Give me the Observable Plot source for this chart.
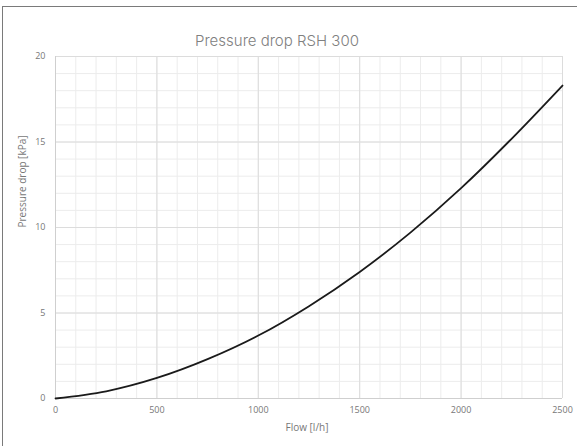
<!DOCTYPE html>
<html>
<head>
<meta charset="utf-8">
<script src="https://cdn.jsdelivr.net/npm/d3@7"></script>
<script src="https://cdn.jsdelivr.net/npm/@observablehq/plot@0.6"></script>
<style>
  html, body { margin: 0; padding: 0; background: #fff; }
  #wrap { position: relative; width: 577px; height: 446px; overflow: hidden; }
  #frame { position: absolute; left: 2px; top: 6px; width: 580px; height: 460px; border-left: 1.5px solid #7a7a7a; border-top: 1.5px solid #7a7a7a; pointer-events: none; }
</style>
</head>
<body>
<div id="wrap"><div id="frame"></div></div>
<script>
const title = "Pressure drop RSH 300";
const xLabel = "Flow [l/h]";
const yLabel = "Pressure drop [kPa]";
const flow = [0, 250, 500, 750, 1000, 1250, 1500, 1750, 2000, 2250, 2500];
const pressure = [0, 0.42, 1.2, 2.3, 3.68, 5.4, 7.4, 9.7, 12.3, 15.2, 18.3];
const xTicks = [0, 500, 1000, 1500, 2000, 2500];
const yTicks = [0, 5, 10, 15, 20];
const xMinor = d3.range(0, 2501, 100);
const yMinor = d3.range(0, 20.01, 1);

const data = flow.map((f, i) => ({flow: f, p: pressure[i]}));
const font = "'Open Sans', sans-serif";

const chart = Plot.plot({
  width: 577,
  height: 446,
  marginLeft: 55,
  marginRight: 15,
  marginTop: 56,
  marginBottom: 48,
  style: {fontFamily: font, fontSize: "9px", color: "#777", background: "transparent"},
  x: {domain: [0, 2500], ticks: xTicks, tickSize: 0, tickPadding: 8, label: null},
  y: {domain: [0, 20], ticks: yTicks, tickSize: 0, tickPadding: 10, label: null},
  marks: [
    Plot.ruleX(xMinor, {stroke: "#ececec", strokeWidth: 1}),
    Plot.ruleY(yMinor, {stroke: "#ececec", strokeWidth: 1}),
    Plot.ruleX(xTicks, {stroke: "#dcdcdc", strokeWidth: 1}),
    Plot.ruleY(yTicks, {stroke: "#dcdcdc", strokeWidth: 1}),
    Plot.ruleY([0], {stroke: "#cfcfcf"}),
    Plot.ruleX([0], {stroke: "#cfcfcf"}),
    Plot.line(data, {x: "flow", y: "p", curve: "monotone-x", stroke: "#1a1a1a", strokeWidth: 1.8}),
    Plot.axisX({ticks: xTicks, tickFormat: d3.format("d"), tickSize: 0, tickPadding: 8, fill: "#777", fontSize: 9, label: null}),
    Plot.axisY({ticks: yTicks, tickFormat: d3.format("d"), tickSize: 0, tickPadding: 10, fill: "#777", fontSize: 9, label: null}),
    Plot.text([xLabel], {frameAnchor: "bottom", dy: 32, dx: -2, fill: "#777", fontSize: 10}),
    Plot.text([yLabel], {frameAnchor: "left", rotate: -90, dx: -33, fill: "#777", fontSize: 10}),
    Plot.text([title], {frameAnchor: "top", dy: -21, dx: -32, fill: "#808080", fontSize: 15, fontWeight: 300, fontFamily: "Inter, 'Open Sans', sans-serif"})
  ]
});
document.getElementById("wrap").appendChild(chart);
</script>
</body>
</html>
